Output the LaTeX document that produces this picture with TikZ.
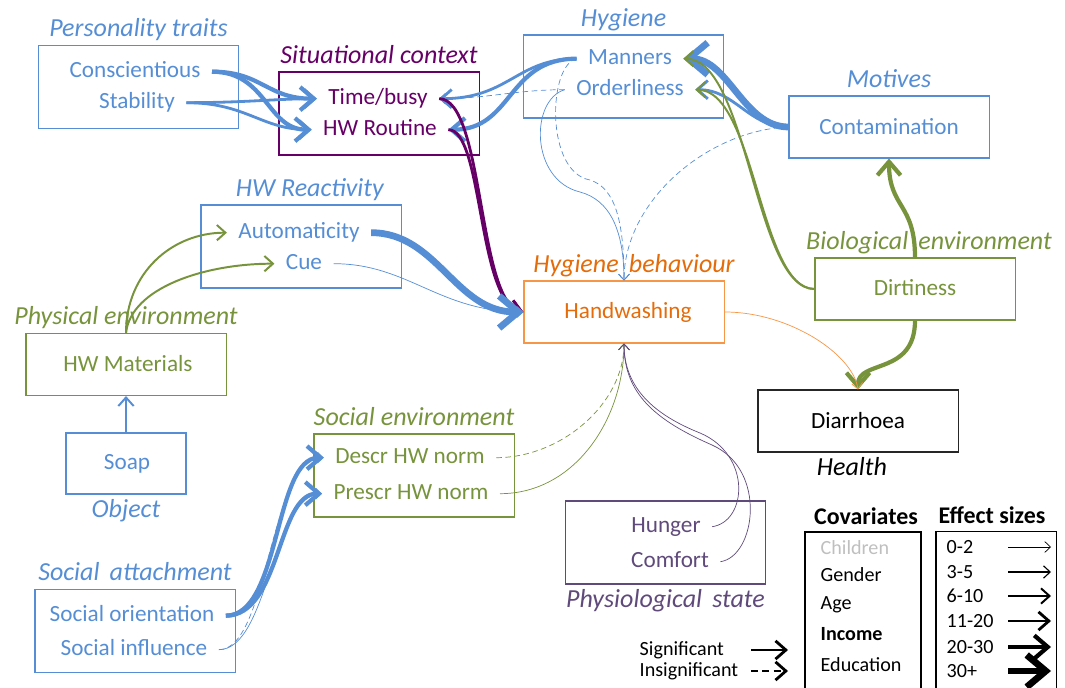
\documentclass[tikz,border=0pt]{standalone}
\usepackage{fontspec}
\setmainfont{Carlito}
\usetikzlibrary{arrows.meta}
\usetikzlibrary{positioning}

\definecolor{hblue}{RGB}{85,142,213}
\definecolor{hgreen}{RGB}{119,147,60}
\definecolor{hplum}{RGB}{102,0,102}
\definecolor{hviolet}{RGB}{96,74,123}
\definecolor{horange}{RGB}{228,108,10}
\definecolor{hlorange}{RGB}{247,150,70}
\definecolor{hgrey}{RGB}{191,191,191}

\begin{document}
\begin{tikzpicture}[x=0.025cm, y=-0.025cm,
	box/.style = {draw, line width=0.75pt, inner sep=0pt},
	tall/.style = {box, minimum width=5cm, minimum height=2.075cm},
	flat/.style = {box, minimum width=5cm, minimum height=1.55cm},
	head/.style = {inner sep=1pt, text height=13.5pt, text depth=4pt, font=\fontsize{18.5}{22}\selectfont\itshape},
	item/.style = {inner ysep=1pt, inner xsep=8pt, text height=11pt, text depth=3pt, yshift=-1.2pt, font=\fontsize{16.5}{19}\selectfont},
	leg/.style = {inner sep=1pt, anchor=west, font=\fontsize{14.3}{17}\selectfont},
	leghead/.style = {inner sep=1pt, font=\fontsize{17}{20}\selectfont\bfseries},
	tip/.style = {-{Straight Barb[length=3pt 2.2, width=6pt 3.5]}},
	ns/.style = {dash pattern=on 4pt off 2.5pt},
	e0/.style = {line width=0.5pt, tip},
	e2/.style = {line width=1.4pt, tip},
	e3/.style = {line width=2pt, tip},
	e4/.style = {line width=3pt, tip},
	e5/.style = {line width=4.8pt, tip}]
	\useasboundingbox (0,0) rectangle (1065,688);
	% group boxes
	\node[tall, draw=hblue] (persbox) at (138.5,87) {};
	\node[tall, draw=hplum] (sitbox) at (379,113.5) {};
	\node[tall, draw=hblue] (hygbox) at (623.5,76.5) {};
	\node[flat, draw=hblue] (motbox) at (889,127) {};
	\node[tall, draw=hblue] (reactbox) at (301,246.5) {};
	\node[flat, draw=hlorange] (hwbox) at (624,312) {};
	\node[flat, draw=hgreen] (dirtbox) at (915,289) {};
	\node[flat, draw=hgreen] (physbox) at (126,364.5) {};
	\node[box, draw=hblue, minimum width=3cm, minimum height=1.525cm] (soapbox) at (126,463.5) {};
	\node[tall, draw=hgreen] (socenvbox) at (414,475.5) {};
	\node[flat, draw=black!85] (diarrbox) at (858,421) {};
	\node[tall, draw=hviolet] (physiobox) at (665.5,542.5) {};
	\node[tall, draw=hblue] (attachbox) at (135,631) {};
	% group labels
	\node[head, text=hblue, above=0.5pt of persbox] (perslab) {Personality traits};
	\node[head, text=hplum, above=0.5pt of sitbox] (sitlab) {Situational context};
	\node[head, text=hblue, above=0.5pt of hygbox] (hyglab) {Hygiene};
	\node[head, text=hblue, above=0.5pt of motbox] (motlab) {Motives};
	\node[head, text=hblue, above=0.5pt of reactbox, xshift=0.22cm] (reactlab) {HW Reactivity};
	\node[head, text=horange, above=0.5pt of hwbox, xshift=0.25cm] (hwlab) {Hygiene\, behaviour};
	\node[head, text=hgreen, above=0.5pt of dirtbox, xshift=0.35cm] (biolab) {Biological\, environment};
	\node[head, text=hgreen, above=0.5pt of physbox] (physlab) {Physical environment};
	\node[head, text=hblue, below=1.5pt of soapbox] (objlab) {Object};
	\node[head, text=hgreen, above=0.5pt of socenvbox] (socenvlab) {Social environment};
	\node[head, below=1.5pt of diarrbox, xshift=-0.15cm] (healthlab) {Health};
	\node[head, text=hviolet, below=1.5pt of physiobox] (physiolab) {Physiological\, state};
	\node[head, text=hblue, above=0.5pt of attachbox] (attachlab) {Social\, attachment};
	% items
	\node[item, text=hblue] (consc) at (135,70) {Conscientious};
	\node[item, text=hblue] (stab) at (137,101) {Stability};
	\node[item, text=hplum] (busy) at (378,97) {Time/busy};
	\node[item, text=hplum] (routine) at (380,128) {HW Routine};
	\node[item, text=hblue] (manners) at (630,57) {Manners};
	\node[item, text=hblue] (order) at (630,88) {Orderliness};
	\node[item, text=hblue] (contam) at (889,127) {Contamination};
	\node[item, text=hblue] (autom) at (299,231) {Automaticity};
	\node[item, text=hblue] (cue) at (304,262) {Cue};
	\node[item, text=horange] (hw) at (628,311) {Handwashing};
	\node[item, text=hgreen] (dirt) at (915,288) {Dirtiness};
	\node[item, text=hgreen] (mater) at (128,364) {HW Materials};
	\node[item, text=hblue] (soap) at (127,462) {Soap};
	\node[item, text=hgreen] (descr) at (410,456) {Descr HW norm};
	\node[item, text=hgreen] (prescr) at (411,492) {Prescr HW norm};
	\node[item] (diarr) at (858,421) {Diarrhoea};
	\node[item, text=hviolet] (hunger) at (666,525) {Hunger};
	\node[item, text=hviolet] (comfort) at (670,560) {Comfort};
	\node[item, text=hblue] (orient) at (132,614) {Social orientation};
	\node[item, text=hblue] (influ) at (134,648) {Social influence};
	% paths
	\draw[hblue, e4] (consc.east) .. controls +(50,0) and +(-50,0) .. (busy.west);
	\draw[hblue, e4] (consc.east) .. controls +(55,0) and +(-45,0) .. (routine.west);
	\draw[hblue, e3] (stab.east) .. controls +(60,0) and +(-40,0) .. (busy.west);
	\draw[hblue, e3] (stab.east) .. controls +(60,0) and +(-50,0) .. (routine.west);
	\draw[hblue, e3] (manners.west) .. controls +(-60,0) and +(70,0) .. (busy.east);
	\draw[hblue, e4] (manners.west) .. controls +(-70,0) and +(65,0) .. (routine.east);
	\draw[hblue, e0, ns] (order.west) .. controls +(-50,0) and +(50,0) .. (busy.east);
	\draw[hblue, e0, ns] (manners.west) .. controls (548,65) and (545,172) .. (590,180) .. controls (615,188) and +(0,-60) .. (hwbox.north);
	\draw[hblue, e0] (order.west) .. controls (530,100) and (530,180) .. (580,192) .. controls (610,200) and +(0,-50) .. (hwbox.north);
	\draw[hblue, e0, ns] (motbox.west) .. controls +(-80,3) and +(0,-80) .. (hwbox.north);
	\draw[hblue, e5] (motbox.west) .. controls +(-45,0) and +(45,0) .. (manners.east);
	\draw[hblue, e3] (motbox.west) .. controls +(-40,0) and +(40,0) .. (order.east);
	\draw[hgreen, e2] (dirtbox.west) .. controls +(-60,0) and +(65,0) .. (manners.east);
	\draw[hgreen, e2] (dirtbox.west) .. controls +(-55,0) and +(60,0) .. (order.east);
	\draw[hgreen, e4] (dirtbox.north) .. controls +(0,-55) and +(0,50) .. (motbox.south);
	\draw[hgreen, e4] (dirtbox.south) .. controls +(0,55) and +(0,-30) .. (diarrbox.north);
	\draw[hlorange, e0] (hwbox.east) .. controls +(65,0) and +(-5,-35) .. (diarrbox.north);
	\draw[hplum, e3] (busy.east) .. controls +(45,0) and +(-46,-10) .. (hwbox.west);
	\draw[hplum, e3] (routine.east) .. controls +(35,0) and +(-46,-10) .. (hwbox.west);
	\draw[hblue, e5] (autom.east) .. controls +(66,0) and +(-68,0) .. (hwbox.west);
	\draw[hblue, e0] (cue.east) .. controls +(75,0) and +(-85,0) .. (hwbox.west);
	\draw[hgreen, e2] (physbox.north) .. controls +(0,-60) and +(-55,0) .. (autom.west);
	\draw[hgreen, e2] (physbox.north) .. controls +(5,-45) and +(-70,0) .. (cue.west);
	\draw[hblue, e2] (soapbox.north) -- (physbox.south);
	\draw[hblue, e4] (orient.east) .. controls +(55,0) and +(-50,0) .. (descr.west);
	\draw[hblue, e4] (orient.east) .. controls +(55,0) and +(-45,0) .. (prescr.west);
	\draw[hblue, e0, ns] (influ.east) .. controls +(50,0) and +(-55,0) .. (descr.west);
	\draw[hblue, e0] (influ.east) .. controls +(50,0) and +(-50,0) .. (prescr.west);
	\draw[hgreen, e0, ns] (descr.east) .. controls +(65,0) and +(0,60) .. (hwbox.south);
	\draw[hgreen, e0] (prescr.east) .. controls +(75,0) and +(0,75) .. (hwbox.south);
	\draw[hviolet, e0] (hunger.east) .. controls +(35,-5) and (752,455) .. (700,433) .. controls (655,415) and +(0,45) .. (hwbox.south);
	\draw[hviolet, e0] (comfort.east) .. controls +(35,-5) and (768,470) .. (712,445) .. controls (655,420) and +(0,50) .. (hwbox.south);
	% legend
	\node[leghead] (covhead) at (866,516) {Covariates};
	\node[box, minimum width=2.9cm, minimum height=3.95cm] (covbox) at (863,611) {};
	\node[leg, text=hgrey] (child) at (819,548) {Children};
	\node[leg] (gender) at (819,575) {Gender};
	\node[leg] (age) at (819,605) {Age};
	\node[leg, font=\fontsize{14.3}{17}\selectfont\bfseries] (income) at (819,634) {Income};
	\node[leg] (educ) at (819,665) {Education};
	\node[leghead] (effhead) at (992,515) {Effect sizes};
	\node[box, minimum width=3cm, minimum height=3.95cm] (effbox) at (996,610.5) {};
	\foreach \lab/\yy/\lw [count=\i] in {0-2/547/0.5pt, 3-5/572/0.8pt, 6-10/596/1.4pt, 11-20/621/2pt, 20-30/647/3pt, 30+/671/4.8pt}{
		\node[leg] (eff\i) at (945,\yy) {\lab};
		\coordinate (effa\i) at (1008,\yy);
		\coordinate (effb\i) at (1051,\yy);
		\draw[tip, line width=\lw] (effa\i) -- (effb\i);
	}
	\node[leg] (sig) at (638,650) {Significant};
	\node[leg] (insig) at (638,671) {Insignificant};
	\coordinate (siga) at (751,650);
	\coordinate (sigb) at (788,650);
	\coordinate (insiga) at (751,671);
	\coordinate (insigb) at (788,671);
	\draw[e3] (siga) -- (sigb);
	\draw[e3, dash pattern=on 5pt off 3pt] (insiga) -- (insigb);
\end{tikzpicture}
\end{document}
